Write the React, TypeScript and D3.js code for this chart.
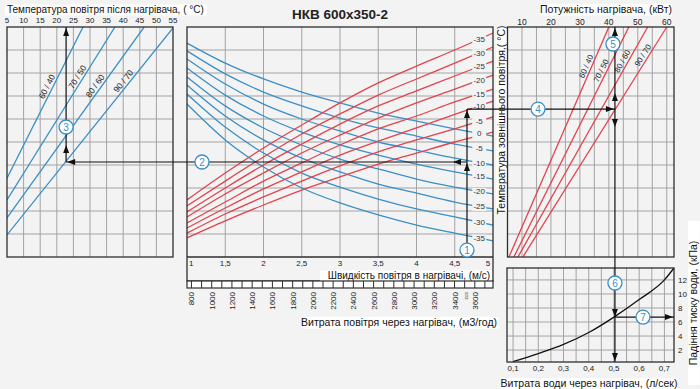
import React from "react";
import * as d3 from "d3";

// ---- data ----
const speedTicks = [1, 1.5, 2, 2.5, 3, 3.5, 4, 4.5, 5];
const speedLabels = ["1", "1,5", "2", "2,5", "3", "3,5", "4", "4,5", "5"];
const flowLabels = [800, 1000, 1200, 1400, 1600, 1800, 2000, 2200, 2400, 2600, 2800, 3000, 3200, 3400, 3600];

// centre chart, level in grid rows (0 = bottom, 10 = top) at each speed tick
const redTemps = ["-35", "-30", "-25", "-20", "-15", "-10", "-5", "0"];
const redLevels = [
  [2.48, 3.65, 4.74, 5.74, 6.7, 7.57, 8.3, 9.0, 9.74],
  [2.22, 3.3, 4.35, 5.35, 6.22, 7.04, 7.74, 8.43, 9.13],
  [1.96, 3.0, 4.0, 4.91, 5.78, 6.57, 7.22, 7.87, 8.52],
  [1.74, 2.74, 3.65, 4.52, 5.3, 6.04, 6.7, 7.3, 7.91],
  [1.48, 2.39, 3.3, 4.09, 4.87, 5.57, 6.13, 6.74, 7.3],
  [1.26, 2.13, 2.96, 3.7, 4.43, 5.04, 5.61, 6.2, 6.78],
  [1.04, 1.87, 2.61, 3.3, 3.96, 4.57, 5.09, 5.57, 6.09],
  [0.83, 1.57, 2.26, 2.91, 3.48, 4.04, 4.52, 5.0, 5.43],
];
const blueTemps = ["0", "-5", "-10", "-15", "-20", "-25", "-30", "-35"];
const blueLevels = [
  [9.3, 8.43, 7.74, 7.17, 6.7, 6.26, 5.91, 5.57, 5.26],
  [8.96, 7.96, 7.17, 6.57, 6.04, 5.61, 5.26, 4.91, 4.61],
  [8.61, 7.52, 6.65, 6.0, 5.48, 5.0, 4.65, 4.3, 4.0],
  [8.22, 7.04, 6.13, 5.43, 4.87, 4.43, 4.04, 3.7, 3.39],
  [7.83, 6.57, 5.61, 4.87, 4.26, 3.83, 3.39, 3.04, 2.74],
  [7.48, 6.13, 5.09, 4.3, 3.7, 3.17, 2.78, 2.39, 2.09],
  [7.09, 5.65, 4.52, 3.65, 3.04, 2.52, 2.09, 1.74, 1.39],
  [6.65, 5.09, 3.91, 3.0, 2.35, 1.83, 1.39, 1.04, 0.7],
];

// water regimes
const regimes = ["60 / 40", "70 / 50", "80 / 60", "90 / 70"];
// left chart: [temperature after heater, level]
const tempLines = [
  [[5, 3.43], [27.9, 10]],
  [[5, 2.48], [37.5, 10]],
  [[5, 1.7], [46.3, 10]],
  [[5, 0.96], [55, 9.96]],
];
const tempLabelLevels = [7.3, 7.7, 7.3, 7.5];
const tempTicks = [5, 10, 15, 20, 25, 30, 35, 40, 45, 50, 55];
// power chart: [kW, level]
const powerLines = [
  [[5.5, 0], [40.0, 10]],
  [[7.2, 0], [46.9, 10]],
  [[8.6, 0], [53.4, 10]],
  [[10.3, 0], [60.0, 10]],
];
const powerLabelLevels = [8.2, 8.0, 8.4, 8.65];
const powerTicks = [10, 20, 30, 40, 50, 60];

// pressure drop
const waterFlow = [0.1, 0.2, 0.3, 0.4, 0.5, 0.6, 0.7, 0.738];
const pressureDrop = [0.35, 1.5, 2.8, 4.5, 6.7, 9.2, 12.0, 13.7];
const waterTicks = ["0,1", "0,2", "0,3", "0,4", "0,5", "0,6", "0,7"];
const dpTicks = [2, 4, 6, 8, 10, 12];

// worked example
const exSpeed = 4.66;
const exBlue = 4.13;
const exRed = 6.43;
const exTemp = 22.8;
const exPower = 42.1;
const exDp = 6.7;

const BLUE = "#3a8fc6";
const RED = "#e2434c";
const GRID = "#a3a3a3";
const FRAME = "#2e2e2e";
const FONT = "'Liberation Sans', Arial, sans-serif";

function arrow(x: number, y: number, dir: string, len = 8, h = 3) {
  if (dir === "up") return `M${x},${y}L${x - h},${y + len}L${x + h},${y + len}Z`;
  if (dir === "down") return `M${x},${y}L${x - h},${y - len}L${x + h},${y - len}Z`;
  if (dir === "left") return `M${x},${y}L${x + len},${y - h}L${x + len},${y + h}Z`;
  return `M${x},${y}L${x - len},${y - h}L${x - len},${y + h}Z`;
}

const Boxed = ({ x, y, text, size = 10, w, anchor = "start", rotate = 0 }: any) => {
  const width = w ?? text.length * size * 0.5;
  const rx = anchor === "middle" ? -width / 2 : anchor === "end" ? -width : 0;
  return (
    <g transform={`translate(${x},${y}) rotate(${rotate})`}>
      <rect x={rx - 2} y={-size * 0.85} width={width + 4} height={size * 1.1} fill="#fff" />
      <text fontSize={size} textAnchor={anchor} fill="#111">{text}</text>
    </g>
  );
};

export default function App() {
  const vY = d3.scaleLinear().domain([0, 10]).range([257, 27]);
  const speedX = d3.scaleLinear().domain([1, 5]).range([187, 493]);
  const tempX = d3.scaleLinear().domain([5, 55]).range([7, 173]);
  const powerX = d3.scaleLinear().domain([5, 62.5]).range([507.5, 674]);
  const waterX = d3.scaleLinear().domain([0.076, 0.738]).range([507, 674]);
  const dpY = d3.scaleLinear().domain([0.3, 13.7]).range([362, 268]);
  const flowToSpeed = (f: number) => f / 3600 / (0.6 * 0.35);

  const curve = d3
    .line<number>()
    .x((_, i) => speedX(speedTicks[i]))
    .y((d) => vY(d))
    .curve(d3.curveMonotoneX);
  const tLine = d3.line<number[]>().x((d) => tempX(d[0])).y((d) => vY(d[1]));
  const pLine = d3.line<number[]>().x((d) => powerX(d[0])).y((d) => vY(d[1]));
  const dpLine = d3
    .line<number>()
    .x((d) => waterX(d))
    .y((_, i) => dpY(pressureDrop[i]))
    .curve(d3.curveMonotoneX);

  const rows = d3.range(1, 10);
  const levelAt = (arr: number[], s: number) => {
    const i = Math.min(7, Math.floor((s - 1) / 0.5));
    const t = (s - speedTicks[i]) / 0.5;
    return arr[i] + (arr[i + 1] - arr[i]) * t;
  };

  const exX = speedX(exSpeed);
  const exTx = tempX(exTemp);
  const exPx = powerX(exPower);
  const yBlue = vY(exBlue);
  const yRed = vY(exRed);
  const yDp = dpY(exDp);

  const flowMinor = d3.range(800, 3800, 100);

  const markers = [
    { n: 1, x: exX, y: vY(0.3) },
    { n: 2, x: 202, y: yBlue },
    { n: 3, x: exTx, y: 127 },
    { n: 4, x: 538, y: yRed },
    { n: 5, x: exPx - 2, y: 44 },
    { n: 6, x: exPx, y: 283 },
    { n: 7, x: 643, y: yDp },
  ];

  const arrows = [
    arrow(exX, yBlue + 1, "up"),
    arrow(exX - 14, yBlue, "left"),
    arrow(exX, yRed + 1, "up"),
    arrow(exTx + 1, yBlue, "left"),
    arrow(exTx, yBlue - 17, "up"),
    arrow(exTx, vY(10) + 1, "up"),
    arrow(exPx - 1, yRed, "right"),
    arrow(exPx, yRed - 16, "up"),
    arrow(exPx, yRed + 18, "down"),
    arrow(exPx, vY(10) + 1, "up"),
    arrow(exPx, yDp, "down"),
    arrow(exPx, 361, "down"),
    arrow(673, yDp, "right"),
  ];

  const rotLabel = (pts: number[][], sx: any, lvl: number) => {
    const [a, b] = pts;
    const t = (lvl - a[1]) / (b[1] - a[1]);
    const x = sx(a[0] + (b[0] - a[0]) * t);
    const y = vY(lvl);
    const ang = (Math.atan2(vY(b[1]) - vY(a[1]), sx(b[0]) - sx(a[0])) * 180) / Math.PI;
    return { x, y, ang };
  };

  return (
    <svg
      width={700}
      height={389}
      style={{ position: "absolute", left: 0, top: 0, fontFamily: FONT }}
    >
      <rect width={700} height={389} fill="#f3f3f3" />

      {/* ---------- left chart ---------- */}
      <g>
        {tempTicks.slice(1, -1).map((t) => (
          <line key={t} x1={tempX(t)} x2={tempX(t)} y1={vY(0)} y2={vY(10)} stroke={GRID} />
        ))}
        {rows.map((r) => (
          <line key={r} x1={tempX(5)} x2={tempX(55)} y1={vY(r)} y2={vY(r)} stroke={GRID} />
        ))}
        <defs>
          <clipPath id="clipL">
            <rect x={tempX(5)} y={vY(10)} width={tempX(55) - tempX(5)} height={vY(0) - vY(10)} />
          </clipPath>
        </defs>
        <g clipPath="url(#clipL)">
          {tempLines.map((l, i) => (
            <path key={i} d={tLine(l) as string} fill="none" stroke={BLUE} strokeWidth={1.3} />
          ))}
        </g>
        {tempLines.map((l, i) => {
          const p = rotLabel(l, tempX, tempLabelLevels[i]);
          return (
            <text
              key={i}
              transform={`translate(${p.x},${p.y}) rotate(${p.ang})`}
              dy={-2.5}
              fontSize={8.5}
              textAnchor="middle"
              fill="#222"
            >
              {regimes[i]}
            </text>
          );
        })}
        <rect x={tempX(5)} y={vY(10)} width={tempX(55) - tempX(5)} height={vY(0) - vY(10)} fill="none" stroke={FRAME} strokeWidth={1.3} />
        {tempTicks.map((t) => (
          <text key={t} x={tempX(t)} y={23} fontSize={8} textAnchor="middle" fill="#222">
            {t}
          </text>
        ))}
        <Boxed x={7} y={13} size={10} text="Температура повітря після нагрівача, ( °C)" w={198} />
      </g>

      {/* ---------- centre chart ---------- */}
      <g>
        <text x={340} y={19} fontSize={13.5} fontWeight="bold" textAnchor="middle" fill="#222">
          НКВ 600x350-2
        </text>
        {speedTicks.slice(1, -1).map((s) => (
          <line key={s} x1={speedX(s)} x2={speedX(s)} y1={vY(0)} y2={vY(10)} stroke={GRID} />
        ))}
        {rows.map((r) => (
          <line key={r} x1={speedX(1)} x2={speedX(5)} y1={vY(r)} y2={vY(r)} stroke={GRID} />
        ))}
        {blueLevels.map((l, i) => (
          <path key={"b" + i} d={curve(l) as string} fill="none" stroke={BLUE} strokeWidth={1.3} />
        ))}
        {redLevels.map((l, i) => (
          <path key={"r" + i} d={curve(l) as string} fill="none" stroke={RED} strokeWidth={1.3} />
        ))}
        {redLevels.slice(0, 7).map((l, i) => {
          const y = vY(levelAt(l, 4.82));
          return (
            <g key={"rl" + i}>
              <rect x={speedX(4.82) - 7} y={y - 3.5} width={14} height={8} fill="#f3f3f3" />
              <text x={speedX(4.82)} y={y + 3} fontSize={8} textAnchor="middle" fill="#333">
                {redTemps[i]}
              </text>
            </g>
          );
        })}
        {blueLevels.map((l, i) => {
          const y = vY(levelAt(l, 4.82));
          return (
            <g key={"bl" + i}>
              <rect x={speedX(4.82) - 7} y={y - 3.5} width={14} height={8} fill="#f3f3f3" />
              <text x={speedX(4.82)} y={y + 3} fontSize={8} textAnchor="middle" fill="#333">
                {blueTemps[i]}
              </text>
            </g>
          );
        })}
        <rect x={speedX(1)} y={vY(10)} width={speedX(5) - speedX(1)} height={281 - vY(10)} fill="none" stroke={FRAME} strokeWidth={1.3} />
        <line x1={speedX(1)} x2={speedX(5)} y1={vY(0)} y2={vY(0)} stroke={FRAME} strokeWidth={1.3} />
        {speedTicks.map((s, i) => (
          <text
            key={s}
            x={i === 0 ? speedX(s) + 2 : i === 8 ? speedX(s) - 5 : speedX(s)}
            y={266}
            fontSize={8}
            textAnchor={i === 0 ? "start" : "middle"}
            fill="#222"
          >
            {speedLabels[i]}
          </text>
        ))}
        <Boxed x={490} y={279} size={10} anchor="end" text="Швидкість повітря в нагрівачі,  (м/с)" w={168} />
        {/* flow tick row */}
        <rect x={speedX(1)} y={281} width={speedX(5) - speedX(1)} height={7} fill="#fff" stroke={FRAME} strokeWidth={1.2} />
        {flowMinor.map((f) => (
          <line key={f} x1={speedX(flowToSpeed(f))} x2={speedX(flowToSpeed(f))} y1={281} y2={288} stroke={FRAME} strokeWidth={1} />
        ))}
        {flowLabels.map((f) => (
          <text
            key={f}
            transform={`translate(${speedX(flowToSpeed(f)) + 3},292) rotate(-90)`}
            fontSize={8}
            textAnchor="end"
            fill="#222"
          >
            {f}
          </text>
        ))}
        <text
          transform={`translate(${exX + 1.5},292) rotate(-90)`}
          fontSize={3.5}
          textAnchor="end"
          fill="#222"
        >
          3520
        </text>
        <Boxed x={497} y={326} size={10.5} anchor="end" text="Витрата повітря через нагрівач, (м3/год)" w={192} />
        <Boxed x={505} y={120} size={10.5} anchor="middle" rotate={-90} text="Температура зовнішнього повітря,( °C)" w={180} />
      </g>

      {/* ---------- power chart ---------- */}
      <g>
        {d3.range(10, 61, 5).map((t) => (
          <line key={t} x1={powerX(t)} x2={powerX(t)} y1={vY(0)} y2={vY(10)} stroke={GRID} />
        ))}
        {rows.map((r) => (
          <line key={r} x1={powerX(5)} x2={powerX(62.5)} y1={vY(r)} y2={vY(r)} stroke={GRID} />
        ))}
        {powerLines.map((l, i) => (
          <path key={i} d={pLine(l) as string} fill="none" stroke={RED} strokeWidth={1.3} />
        ))}
        {powerLines.map((l, i) => {
          const p = rotLabel(l, powerX, powerLabelLevels[i]);
          return (
            <text
              key={i}
              transform={`translate(${p.x},${p.y}) rotate(${p.ang})`}
              dy={-2.5}
              fontSize={8}
              textAnchor="middle"
              fill="#222"
            >
              {regimes[i]}
            </text>
          );
        })}
        <rect x={powerX(5)} y={vY(10)} width={powerX(62.5) - powerX(5)} height={vY(0) - vY(10)} fill="none" stroke={FRAME} strokeWidth={1.3} />
        {powerTicks.map((t) => (
          <text key={t} x={powerX(t)} y={25} fontSize={8.5} textAnchor="middle" fill="#222">
            {t}
          </text>
        ))}
        <Boxed x={606} y={13} size={10.5} anchor="middle" text="Потужність нагрівача, (кВт)" w={128} />
      </g>

      {/* ---------- pressure drop chart ---------- */}
      <g>
        {d3.range(0.1, 0.71, 0.05).map((t) => (
          <line key={t} x1={waterX(t)} x2={waterX(t)} y1={dpY(0.3)} y2={dpY(13.7)} stroke={GRID} />
        ))}
        {dpTicks.map((t) => (
          <line key={t} x1={waterX(0.076)} x2={waterX(0.738)} y1={dpY(t)} y2={dpY(t)} stroke={GRID} />
        ))}
        <path d={dpLine(waterFlow) as string} fill="none" stroke="#111" strokeWidth={1.3} />
        <rect x={waterX(0.076)} y={dpY(13.7)} width={waterX(0.738) - waterX(0.076)} height={dpY(0.3) - dpY(13.7)} fill="none" stroke={FRAME} strokeWidth={1.3} />
        {waterTicks.map((t, i) => (
          <text key={t} x={waterX(0.1 + i * 0.1)} y={371} fontSize={8} textAnchor="middle" fill="#222">
            {t}
          </text>
        ))}
        {dpTicks.map((t) => (
          <text key={t} x={678} y={dpY(t) + 3} fontSize={8} fill="#222">
            {t}
          </text>
        ))}
        <Boxed x={589} y={387} size={10.5} anchor="middle" text="Витрата води через нагрівач, (л/сек)" w={172} />
        <Boxed x={697} y={303} size={10.5} anchor="middle" rotate={-90} text="Падіння тиску води, (кПа)" w={160} />
      </g>

      {/* ---------- worked example ---------- */}
      <g stroke="#111" strokeWidth={1.2} fill="none">
        <line x1={exX} x2={exX} y1={vY(0)} y2={yRed} />
        <line x1={exTx} x2={exX} y1={yBlue} y2={yBlue} />
        <line x1={exTx} x2={exTx} y1={yBlue} y2={vY(10)} />
        <line x1={exX} x2={exPx} y1={yRed} y2={yRed} />
        <line x1={exPx} x2={exPx} y1={vY(10)} y2={dpY(0.3)} />
        <line x1={exPx} x2={674} y1={yDp} y2={yDp} />
      </g>
      {arrows.map((d, i) => (
        <path key={i} d={d} fill="#111" />
      ))}
      {markers.map((m) => (
        <g key={m.n}>
          <circle cx={m.x} cy={m.y} r={7} fill="#fff" stroke={BLUE} strokeWidth={1.3} />
          <text x={m.x} y={m.y + 3.6} fontSize={10} textAnchor="middle" fill={BLUE}>
            {m.n}
          </text>
        </g>
      ))}
    </svg>
  );
}
